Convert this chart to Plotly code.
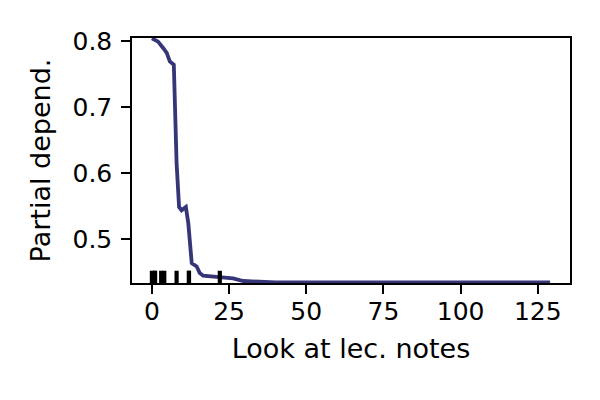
import plotly.graph_objects as go

# partial dependence curve
grid_x = [0, 2, 3.7, 4.8, 5.8, 7.1, 8.0, 8.8, 9.6, 11.0, 11.8, 12.9, 14.5, 15.5,
          16.6, 22, 26.3, 29.6, 32.8, 40, 60, 80, 100, 129]
pd_y = [0.804, 0.799, 0.789, 0.782, 0.769, 0.764, 0.615, 0.549, 0.544, 0.549,
        0.524, 0.464, 0.459, 0.449, 0.445, 0.4425, 0.441, 0.437, 0.436, 0.435,
        0.435, 0.435, 0.435, 0.435]
deciles = [0, 1, 1, 3, 4, 8, 12, 12, 22]

x_ticks = [0, 25, 50, 75, 100, 125]
y_ticks = [0.5, 0.6, 0.7, 0.8]

line_color = '#353578'
font = 'DejaVu Sans'

fig = go.Figure()
fig.add_trace(go.Scatter(
    x=grid_x, y=pd_y, mode='lines',
    line=dict(color=line_color, width=3.8),
    showlegend=False, hoverinfo='skip'
))

# rug of deciles at the bottom (5% of axes height)
for d in deciles:
    fig.add_shape(type='line', xref='x', yref='y domain',
                  x0=d, x1=d, y0=0, y1=0.05,
                  line=dict(color='black', width=4.2))

axis_common = dict(
    showline=True, linecolor='black', linewidth=1.5, mirror=True,
    ticks='outside', ticklen=9, tickwidth=1.5, tickcolor='black',
    showgrid=False, zeroline=False,
    tickfont=dict(family=font, size=25, color='black'),
)

# page body adds an 8px offset, so the figure is a bit smaller than the window
fig.update_layout(
    width=592, height=392,
    margin=dict(l=124, r=30, t=30, b=117),
    paper_bgcolor='white', plot_bgcolor='white',
    xaxis=dict(axis_common, range=[-6.45, 135.45], tickvals=x_ticks,
               ticklabelstandoff=-4,
               title=dict(text='Look at lec. notes', standoff=14,
                          font=dict(family=font, size=27, color='black'))),
    yaxis=dict(axis_common, range=[0.434, 0.8045], tickvals=y_ticks,
               tickformat='.1f', ticklabelstandoff=4,
               title=dict(text='Partial depend.', standoff=14,
                          font=dict(family=font, size=27, color='black'))),
)

fig.write_html("out.html")
